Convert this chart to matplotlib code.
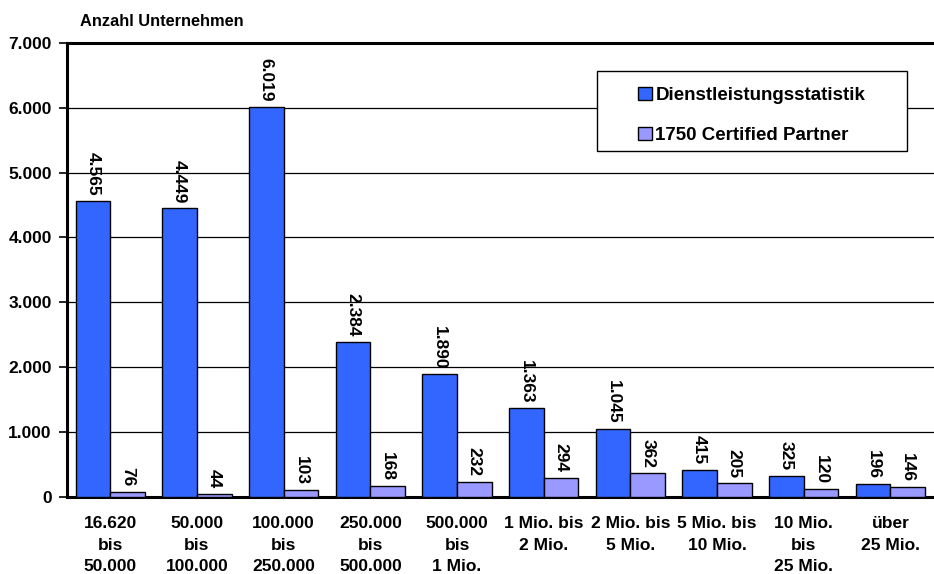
import matplotlib
matplotlib.use("Agg")
import matplotlib.pyplot as plt
from matplotlib.patches import Rectangle
import numpy as np

plt.rcParams['font.family'] = ['Liberation Sans', 'DejaVu Sans']
plt.rcParams['font.weight'] = 'bold'

categories = ["16.620\nbis\n50.000", "50.000\nbis\n100.000", "100.000\nbis\n250.000",
              "250.000\nbis\n500.000", "500.000\nbis\n1 Mio.", "1 Mio. bis\n2 Mio.",
              "2 Mio. bis\n5 Mio.", "5 Mio. bis\n10 Mio.", "10 Mio.\nbis\n25 Mio.",
              "über\n25 Mio."]
dienstleistung = [4565, 4449, 6019, 2384, 1890, 1363, 1045, 415, 325, 196]
partner = [76, 44, 103, 168, 232, 294, 362, 205, 120, 146]
series_names = ["Dienstleistungsstatistik", "1750 Certified Partner"]
yticks = [0, 1000, 2000, 3000, 4000, 5000, 6000, 7000]


def de_fmt(v):
    return f"{v:,}".replace(",", ".")


fig = plt.figure(figsize=(9.34, 5.74), dpi=100)
ax = fig.add_axes([0.0717, 0.1347, 0.928, 0.7904])

x = np.arange(len(categories))
w = 0.4
b1 = ax.bar(x - w / 2, dienstleistung, w, color="#3366FF", edgecolor="black",
            linewidth=1.0, zorder=3, label=series_names[0])
b2 = ax.bar(x + w / 2, partner, w, color="#9999FF", edgecolor="black",
            linewidth=1.0, zorder=3, label=series_names[1])

for bars, vals in ((b1, dienstleistung), (b2, partner)):
    for rect, v in zip(bars, vals):
        ax.text(rect.get_x() + rect.get_width() / 2, v + 80, de_fmt(v),
                rotation=-90, ha="center", va="bottom", fontsize=12.5,
                fontweight="bold", zorder=4)

ax.set_xlim(-0.5, len(categories) - 0.5)
ax.set_ylim(0, 7000)
ax.set_yticks(yticks)
ax.set_yticklabels([de_fmt(v) for v in yticks], fontsize=12.5, fontweight="bold")
ax.set_xticks(x)
ax.set_xticklabels(categories, fontsize=12.5, fontweight="bold", linespacing=1.55)
ax.tick_params(axis="x", length=0, pad=14)
ax.tick_params(axis="y", direction="out", length=6, width=1.2, pad=5)

ax.yaxis.grid(True, color="black", linewidth=0.9, zorder=0)
ax.set_axisbelow(True)
ax.spines["right"].set_visible(False)
for s in ("left", "bottom", "top"):
    ax.spines[s].set_linewidth(2.2)

# legend box drawn as a separate framed rectangle
fig.patches.append(Rectangle((597 / 934, 1 - 151 / 574), 310 / 934, 80 / 574,
                             transform=fig.transFigure, facecolor="white",
                             edgecolor="black", linewidth=1.0, zorder=5))
leg = fig.legend(handles=[b1, b2], labels=series_names, loc="upper left",
                 bbox_to_anchor=(638 / 934, 1 - 87 / 574), fontsize=13.5,
                 frameon=False, handlelength=0.75, handleheight=0.72,
                 handletextpad=0.18, labelspacing=1.2, borderpad=0,
                 borderaxespad=0)
leg.set_zorder(6)
for t in leg.get_texts():
    t.set_fontweight("bold")

fig.text(80 / 934, 1 - 21 / 574, "Anzahl Unternehmen", fontsize=11.8,
         fontweight="bold", ha="left", va="center")

fig.savefig("out.png", dpi=100)
